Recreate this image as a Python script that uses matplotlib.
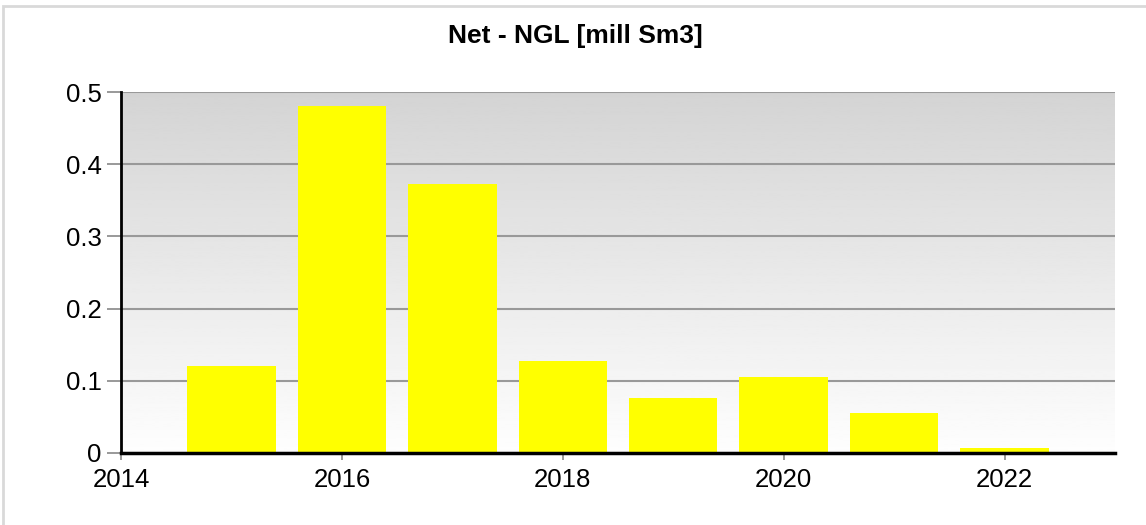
import numpy as np
import matplotlib
matplotlib.use('Agg')
import matplotlib.pyplot as plt
import matplotlib.patches as patches

# data
years = [2015, 2016, 2017, 2018, 2019, 2020, 2021, 2022]
ngl = [0.121, 0.480, 0.373, 0.128, 0.076, 0.105, 0.056, 0.007]
xticks = [2014, 2016, 2018, 2020, 2022]
yticks = [0, 0.1, 0.2, 0.3, 0.4, 0.5]
title = 'Net - NGL [mill Sm3]'

plt.rcParams['font.family'] = ['Liberation Sans', 'DejaVu Sans']

fig = plt.figure(figsize=(11.46, 5.25), dpi=100)
ax = fig.add_axes([121/1146, 72/525, (1115-121)/1146, (453-92)/525])

# grey (top) to white (bottom) gradient of the plot area
grad = np.linspace(0.83, 0.995, 256).reshape(-1, 1)
ax.imshow(grad, cmap='gray', vmin=0, vmax=1, aspect='auto', origin='upper',
          extent=[0, 1, 0, 1], transform=ax.transAxes, zorder=0)

ax.bar(years, ngl, width=0.8, color='#ffff00', zorder=3)

ax.set_xlim(2014, 2023)
ax.set_ylim(0, 0.5)
ax.set_xticks(xticks)
ax.set_yticks(yticks)
ax.set_yticklabels(['0', '0.1', '0.2', '0.3', '0.4', '0.5'])
ax.yaxis.grid(True, color='#999999', linewidth=1.5, zorder=1)
ax.set_axisbelow(True)

for s in ['top', 'right']:
    ax.spines[s].set_visible(False)
ax.spines['left'].set_linewidth(2)
ax.spines['bottom'].set_linewidth(2.5)
ax.spines['left'].set_zorder(4)
ax.spines['bottom'].set_zorder(4)
ax.tick_params(axis='y', length=10, width=1.2, color='#888888',
               labelsize=18.5, pad=4)
ax.tick_params(axis='x', length=5, width=1.2, color='#888888',
               labelsize=18.5, pad=6)

fig.text(575/1146, 1 - 36/525, title, ha='center', va='center',
         fontsize=19, fontweight='bold')

# light frame (only top and left edges show in the reference)
fig.patches.append(patches.Rectangle((3/1146, -0.1), 1.1, 1.1 - 6/525,
                                     transform=fig.transFigure, fill=False,
                                     edgecolor='#d9d9d9', linewidth=2))

fig.savefig('out.png', dpi=100)
